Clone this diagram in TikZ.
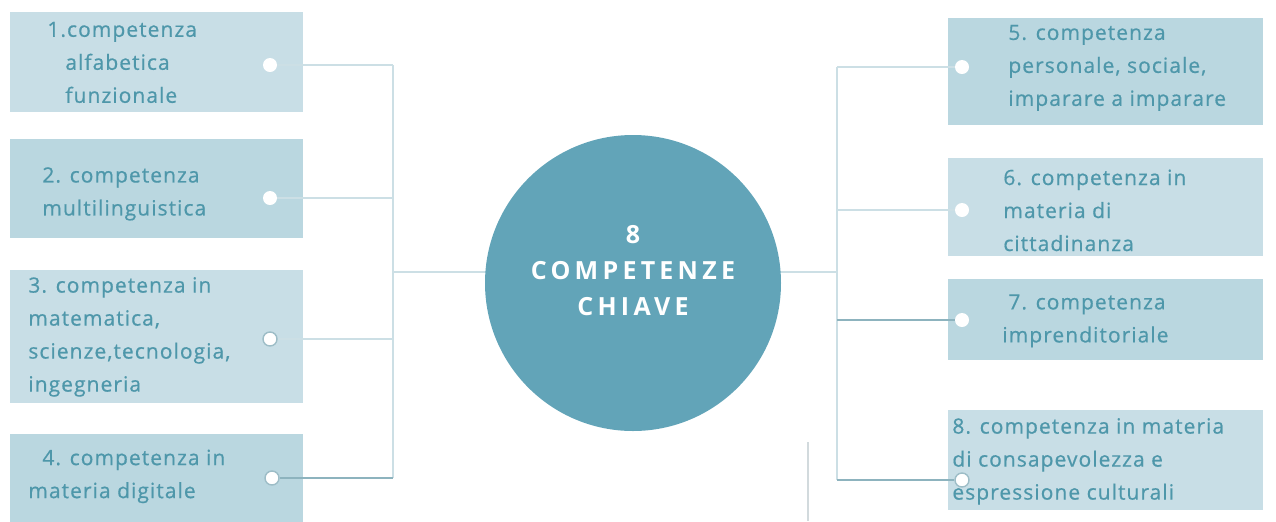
\documentclass[tikz,border=0pt]{standalone}
\usepackage{fontspec}
\newfontfamily\boxfont{Open Sans}[LetterSpace=5, FakeBold=0.6]
\newfontfamily\hubfont{Open Sans}[LetterSpace=17]
\usetikzlibrary{positioning}
\definecolor{boxpale}{HTML}{C8DEE6}
\definecolor{boxdeep}{HTML}{BAD7E0}
\definecolor{compteal}{HTML}{4E97AA}
\definecolor{hubteal}{HTML}{62A4B8}
\definecolor{linkpale}{HTML}{CCDFE5}
\definecolor{linkdark}{HTML}{8DB3BE}
\definecolor{dotrim}{HTML}{9DBDC7}
\definecolor{stray}{HTML}{D2DADD}

\begin{document}
\begin{tikzpicture}[
  x=0.5pt, y=-0.5pt,
  compbox/.style={anchor=north west, inner sep=0pt, draw=none},
  comptext/.style={anchor=west, align=left, inner sep=0pt, text=compteal, font=\boxfont\fontsize{10.5pt}{16.5pt}\selectfont},
  hub/.style={circle, fill=hubteal, minimum size=148pt, inner sep=0pt},
  hubtext/.style={align=center, inner sep=0pt, text=white, font=\hubfont\bfseries\fontsize{12.5pt}{18pt}\selectfont},
  dot/.style={circle, fill=white, minimum size=7pt, inner sep=0pt},
  ringdot/.style={dot, draw=dotrim, line width=0.7pt},
  link/.style={draw=linkpale, line width=1pt},
  darklink/.style={draw=linkdark, line width=1pt}
]
\useasboundingbox (0,0) rectangle (1276,521);
\clip (0,0) rectangle (1276,521);

% Boxes on the left
\node[compbox, fill=boxpale, minimum width=146.5pt, minimum height=50pt] (b1) at (10,12) {};
\node[compbox, fill=boxdeep, minimum width=146.5pt, minimum height=49.5pt] (b2) at (10,139) {};
\node[compbox, fill=boxpale, minimum width=146.5pt, minimum height=66.5pt] (b3) at (10,270) {};
\node[compbox, fill=boxdeep, minimum width=146.5pt, minimum height=48pt] (b4) at (10,434) {};

% Boxes on the right
\node[compbox, fill=boxdeep, minimum width=157.5pt, minimum height=53.5pt] (b5) at (948,18) {};
\node[compbox, fill=boxpale, minimum width=157.5pt, minimum height=49pt] (b6) at (948,158) {};
\node[compbox, fill=boxdeep, minimum width=157.5pt, minimum height=40.5pt] (b7) at (948,279) {};
\node[compbox, fill=boxpale, minimum width=157.5pt, minimum height=50pt] (b8) at (948,410) {};

% Texts
\node[comptext] (t1) at ([xshift=18.5pt]b1.west) {1.competenza\\\hspace*{9pt}alfabetica\\\hspace*{9pt}funzionale};
\node[comptext] (t2) at ([xshift=16pt, yshift=-2.5pt]b2.west) {2. competenza\\multilinguistica};
\node[comptext] (t3) at ([xshift=9pt, yshift=0pt]b3.west) {3. competenza in\\matematica,\\scienze,tecnologia,\\ingegneria};
\node[comptext] (t4) at ([xshift=9pt, yshift=3pt]b4.west) {\hspace*{7pt}4. competenza in\\materia digitale};
\node[comptext] (t5) at ([xshift=30pt, yshift=2pt]b5.west) {5. competenza\\personale, sociale,\\imparare a imparare};
\node[comptext] (t6) at ([xshift=27.5pt, yshift=-1.5pt]b6.west) {6. competenza in\\materia di\\cittadinanza};
\node[comptext] (t7) at ([xshift=27pt, yshift=-0.5pt]b7.west) {\hspace*{3pt}7. competenza\\imprenditoriale};
\node[comptext] (t8) at ([xshift=2pt, yshift=-0.5pt]b8.west) {8. competenza in materia\\di consapevolezza e\\espressione culturali};

% Joints of the two bars
\coordinate (l1) at (393,65);
\coordinate (l2) at (393,198);
\coordinate (l3) at (393,339);
\coordinate (l4) at (393,478);
\coordinate (r5) at (837,67);
\coordinate (r6) at (837,210);
\coordinate (r7) at (837,320);
\coordinate (r8) at (837,480);
\coordinate (lhub) at (393,272);
\coordinate (rhub) at (837,272);

% Dots
\node[dot] (d1) at (270,65) {};
\node[dot] (d2) at (270,198) {};
\node[ringdot] (d3) at (270,339) {};
\node[ringdot] (d4) at (272,478) {};
\node[dot] (d5) at (962,67) {};
\node[dot] (d6) at (962,210) {};
\node[dot] (d7) at (962,320) {};
\node[ringdot] (d8) at (962,480) {};

% Connectors
\draw[link] (l1) -- (l4);
\draw[link] (r5) -- (r8);
\draw[link] (lhub) -- (rhub);
\draw[link] (d1.east) -- (l1);
\draw[link] (d2.east) -- (l2);
\draw[link] (d3.east) -- (l3);
\draw[darklink] (d4.east) -- (l4);
\draw[link] (r5) -- (d5.west);
\draw[link] (r6) -- (d6.west);
\draw[darklink] (r7) -- (d7.west);
\draw[darklink] (r8) -- (d8.west);
\draw[stray, line width=1pt] (808,442) -- (808,521);

% Centre
\node[hub] (hub) at (633,283) {};
\node[hubtext] (hubt) at (633,271) {8\\COMPETENZE\\CHIAVE};
\end{tikzpicture}
\end{document}
